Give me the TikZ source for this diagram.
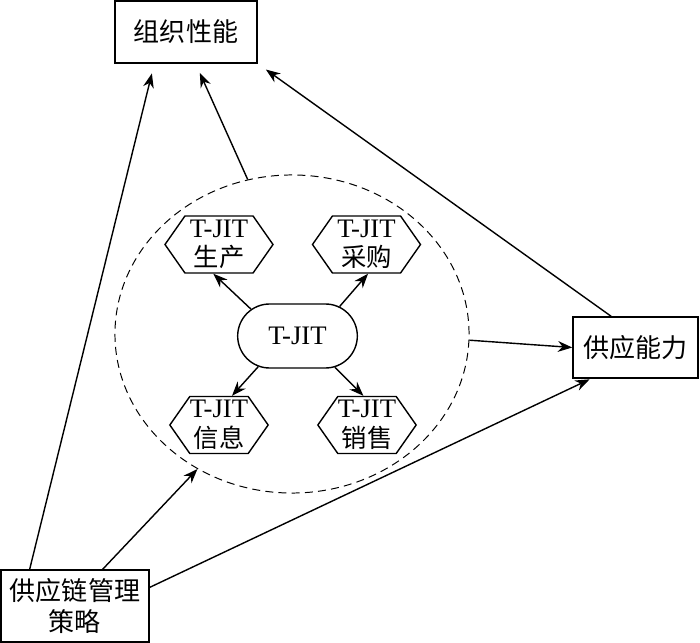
\documentclass[tikz,border=0pt]{standalone}
\usepackage{fontspec}
\setmainfont{Liberation Serif}
\newfontfamily\cjk{Noto Sans CJK SC}
\usetikzlibrary{arrows.meta, shapes.geometric, shapes.misc, shapes.symbols}

\begin{document}
\begin{tikzpicture}[x=0.025cm, y=-0.025cm, >={Stealth[length=3.6mm, width=2.7mm]}, line width=1pt,
  box/.style={draw, rectangle, inner sep=0pt, align=center, font=\cjk\fontsize{18.5}{22}\selectfont},
  hexa/.style={draw, signal, signal to=east and west, signal pointer angle=110, inner sep=0pt,
    minimum height=1.425cm, align=center, font=\fontsize{19}{21}\selectfont}]

% Background
\fill[white] (0,0) rectangle (700,643);
\useasboundingbox (0,0) rectangle (700,643);

% Outer boxes
\node[box, minimum width=3.55cm, minimum height=1.55cm] (perf) at (186,32) {组织性能};
\node[box, minimum width=3.125cm, minimum height=1.525cm] (sup) at (635.5,347.5) {供应能力};
\node[box, minimum width=3.7cm, minimum height=1.8cm] (strat) at (75,606) {供应链管理\\策略};

% Dashed ring with the T-JIT parts
\node[draw, dashed, ellipse, line width=0.7pt, dash pattern=on 2mm off 1.3mm,
  minimum width=8.85cm, minimum height=7.95cm] (ring) at (292,334) {};
\node[draw, rounded rectangle, minimum width=3.225cm, minimum height=1.6cm,
  font=\fontsize{19}{20}\selectfont] (tjit) at (297.5,336) {T-JIT};
\node[hexa, minimum width=2.7cm] (prod) at (219,244.5) {T-JIT\\{\cjk\fontsize{18}{21}\selectfont 生产}};
\node[hexa, minimum width=2.7cm] (buy) at (366.5,244.5) {T-JIT\\{\cjk\fontsize{18}{21}\selectfont 采购}};
\node[hexa, minimum width=2.45cm] (info) at (219,425) {T-JIT\\{\cjk\fontsize{18}{21}\selectfont 信息}};
\node[hexa, minimum width=2.4cm] (sale) at (367,425) {T-JIT\\{\cjk\fontsize{18}{21}\selectfont 销售}};

% Arrows inside the ring
\draw[->] (tjit.150) -- (prod.-101);
\draw[->] (tjit.35) -- (buy.-87);
\draw[->] (tjit.-142) -- (info.66);
\draw[->] (tjit.-40) -- (sale.97);

% Arrows between the outer parts
\draw[->, shorten >=0.25cm] (strat.141) -- (perf.-135);
\draw[->] (strat.53) -- (ring.-125);
\draw[->, shorten >=1pt] (strat.14) -- (sup.-145);
\draw[->, shorten >=0.25cm] (ring.106) -- (perf.-73);
\draw[->, shorten >=0.25cm] (sup.128) -- (perf.south east);
\draw[->] (ring.-2) -- (sup.west);

\end{tikzpicture}
\end{document}
